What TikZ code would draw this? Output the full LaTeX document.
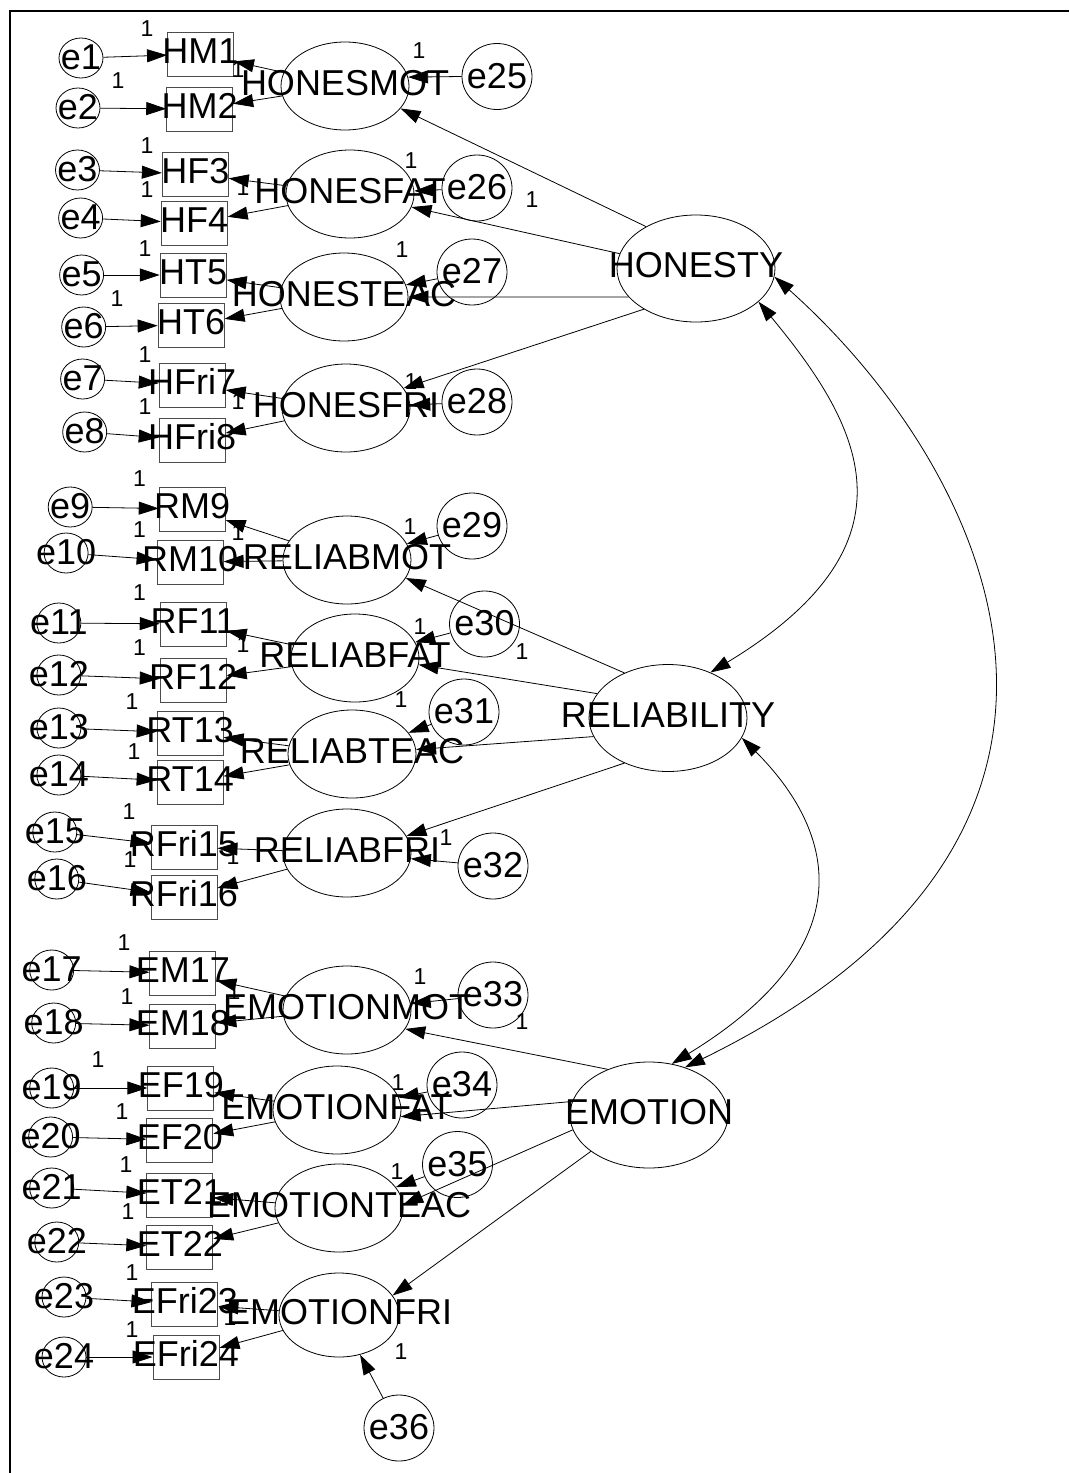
\documentclass[tikz,border=0pt]{standalone}
\usepackage{fontspec}
\setmainfont{Liberation Sans}
\usetikzlibrary{arrows.meta,shapes.geometric}
\newcommand{\ctr}[1]{\makebox[0pt]{\raisebox{-9pt}[0pt][0pt]{\fontsize{36}{40}\selectfont #1}}}
\newcommand{\ctre}[1]{\makebox[0pt]{\raisebox{-11.5pt}[0pt][0pt]{\fontsize{36}{40}\selectfont #1}}}
\begin{document}
\begin{tikzpicture}[x=1pt,y=-1pt,
  err/.style={ellipse,draw,line width=0.8pt,minimum width=44pt,minimum height=40pt,inner sep=0pt},
  errb/.style={ellipse,draw,line width=0.8pt,minimum width=70pt,minimum height=66pt,inner sep=0pt},
  obs/.style={rectangle,draw=black!70,line width=0.9pt,minimum width=66pt,minimum height=44pt,inner sep=0pt},
  lat/.style={ellipse,draw,line width=0.8pt,minimum width=128pt,minimum height=88pt,inner sep=0pt},
  latb/.style={ellipse,draw,line width=0.8pt,minimum width=158pt,minimum height=107pt,inner sep=0pt},
  one/.style={inner sep=0pt,font=\fontsize{23}{26}\selectfont},
  arr/.style={line width=0.8pt,-{Triangle[length=20pt,width=13pt]}},
  cov/.style={line width=0.8pt,{Triangle[length=20pt,width=13pt]}-{Triangle[length=20pt,width=13pt]}}]
\useasboundingbox (0,0) rectangle (1069,1473);
\draw[line width=2pt] (1069,10.5) -- (9.5,10.5) -- (9.5,1473);

% left error terms
\node[err] (e1) at (81,58) {\ctre{e1}};
\node[err] (e2) at (78,108) {\ctre{e2}};
\node[err] (e3) at (77.5,170) {\ctre{e3}};
\node[err] (e4) at (80.6,218) {\ctre{e4}};
\node[err] (e5) at (81.6,275) {\ctre{e5}};
\node[err] (e6) at (83.7,327) {\ctre{e6}};
\node[err] (e7) at (82.6,379) {\ctre{e7}};
\node[err] (e8) at (84.7,432) {\ctre{e8}};
\node[err] (e9) at (70.2,507) {\ctre{e9}};
\node[err] (e10) at (66.1,553) {\ctre{e10}};
\node[err] (e11) at (58.9,623) {\ctre{e11}};
\node[err] (e12) at (58.9,675) {\ctre{e12}};
\node[err] (e13) at (58.9,728) {\ctre{e13}};
\node[err] (e14) at (58.9,775) {\ctre{e14}};
\node[err] (e15) at (54.8,832) {\ctre{e15}};
\node[err] (e16) at (56.8,879) {\ctre{e16}};
\node[err] (e17) at (51.7,970) {\ctre{e17}};
\node[err] (e18) at (53.7,1023) {\ctre{e18}};
\node[err] (e19) at (51.7,1088) {\ctre{e19}};
\node[err] (e20) at (50.6,1137) {\ctre{e20}};
\node[err] (e21) at (51.7,1188) {\ctre{e21}};
\node[err] (e22) at (56.8,1242) {\ctre{e22}};
\node[err] (e23) at (64,1297) {\ctre{e23}};
\node[err] (e24) at (64,1357) {\ctre{e24}};

% observed variables
\node[obs] (HM1) at (200.5,54) {\ctr{HM1}};
\node[obs] (HM2) at (199.7,109) {\ctr{HM2}};
\node[obs] (HF3) at (195.3,174) {\ctr{HF3}};
\node[obs] (HF4) at (194.2,223) {\ctr{HF4}};
\node[obs] (HT5) at (193.2,275) {\ctr{HT5}};
\node[obs] (HT6) at (191.1,325) {\ctr{HT6}};
\node[obs] (HFri7) at (192.2,385) {\ctr{HFri7}};
\node[obs] (HFri8) at (192.2,440) {\ctr{HFri8}};
\node[obs] (RM9) at (192.2,509) {\ctr{RM9}};
\node[obs] (RM10) at (190.1,562) {\ctr{RM10}};
\node[obs] (RF11) at (193.2,624) {\ctr{RF11}};
\node[obs] (RF12) at (193.2,680) {\ctr{RF12}};
\node[obs] (RT13) at (190.1,733) {\ctr{RT13}};
\node[obs] (RT14) at (190.1,782) {\ctr{RT14}};
\node[obs] (RFri15) at (184,847) {\ctr{RFri15}};
\node[obs] (RFri16) at (184,897) {\ctr{RFri16}};
\node[obs] (EM17) at (182.9,973) {\ctr{EM17}};
\node[obs] (EM18) at (182.9,1026) {\ctr{EM18}};
\node[obs] (EF19) at (180.8,1088) {\ctr{EF19}};
\node[obs] (EF20) at (179.8,1140) {\ctr{EF20}};
\node[obs] (ET21) at (179.8,1195) {\ctr{ET21}};
\node[obs] (ET22) at (179.8,1247) {\ctr{ET22}};
\node[obs] (EFri23) at (184.9,1304) {\ctr{EFri23}};
\node[obs] (EFri24) at (186,1357) {\ctr{EFri24}};

% first-order latents
\node[lat] (HONESMOT) at (345,86) {\ctr{HONESMOT}};
\node[lat] (HONESFAT) at (350,194) {\ctr{HONESFAT}};
\node[lat] (HONESTEAC) at (344,297) {\ctr{HONESTEAC}};
\node[lat] (HONESFRI) at (346,408) {\ctr{HONESFRI}};
\node[lat] (RELIABMOT) at (347,560) {\ctr{RELIABMOT}};
\node[lat] (RELIABFAT) at (355,658) {\ctr{RELIABFAT}};
\node[lat] (RELIABTEAC) at (352,754) {\ctr{RELIABTEAC}};
\node[lat] (RELIABFRI) at (347,853) {\ctr{RELIABFRI}};
\node[lat] (EMOTIONMOT) at (347,1010) {\ctr{EMOTIONMOT}};
\node[lat] (EMOTIONFAT) at (337,1110) {\ctr{EMOTIONFAT}};
\node[lat] (EMOTIONTEAC) at (339,1208) {\ctr{EMOTIONTEAC}};
\node[lat,minimum width=120pt,minimum height=84pt] (EMOTIONFRI) at (339,1315) {\ctr{EMOTIONFRI}};

% right error terms
\node[errb] (e25) at (497,76.5) {\ctre{e25}};
\node[errb] (e26) at (477,188) {\ctre{e26}};
\node[errb] (e27) at (472,272) {\ctre{e27}};
\node[errb] (e28) at (477,402) {\ctre{e28}};
\node[errb] (e29) at (472,526) {\ctre{e29}};
\node[errb] (e30) at (484.5,624) {\ctre{e30}};
\node[errb] (e31) at (464,712) {\ctre{e31}};
\node[errb] (e32) at (493,866) {\ctre{e32}};
\node[errb] (e33) at (493,995) {\ctre{e33}};
\node[errb] (e34) at (462,1085) {\ctre{e34}};
\node[errb] (e35) at (457.5,1164.5) {\ctre{e35}};
\node[errb] (e36) at (399,1428) {\ctre{e36}};

% second-order latents
\node[latb] (HONESTY) at (696,268.5) {\ctr{HONESTY}};
\node[latb] (RELIABILITY) at (668,718) {\ctr{RELIABILITY}};
\node[latb,minimum height=106pt] (EMOTION) at (649,1115) {\ctr{EMOTION}};

% error -> indicator
\foreach \e/\b in {e1/HM1,e2/HM2,e3/HF3,e4/HF4,e5/HT5,e6/HT6,e7/HFri7,e8/HFri8,
  e9/RM9,e10/RM10,e11/RF11,e12/RF12,e13/RT13,e14/RT14,e15/RFri15,e16/RFri16,
  e17/EM17,e18/EM18,e19/EF19,e20/EF20,e21/ET21,e22/ET22,e23/EFri23,e24/EFri24}
  \draw[arr] (\e) -- (\b);

% first-order latent -> indicators
\foreach \l/\a/\b in {HONESMOT/HM1/HM2,HONESFAT/HF3/HF4,HONESTEAC/HT5/HT6,HONESFRI/HFri7/HFri8,
  RELIABMOT/RM9/RM10,RELIABFAT/RF11/RF12,RELIABTEAC/RT13/RT14,RELIABFRI/RFri15/RFri16,
  EMOTIONMOT/EM17/EM18,EMOTIONFAT/EF19/EF20,EMOTIONTEAC/ET21/ET22,EMOTIONFRI/EFri23/EFri24}
  {\draw[arr] (\l) -- (\a); \draw[arr] (\l) -- (\b);}

% disturbances
\draw[arr] (e25.180) -- (HONESMOT.8);
\foreach \e/\l in {e26/HONESFAT,e27/HONESTEAC,e28/HONESFRI,
  e29/RELIABMOT,e30/RELIABFAT,e31/RELIABTEAC,e32/RELIABFRI,
  e33/EMOTIONMOT,e34/EMOTIONFAT,e35/EMOTIONTEAC,e36/EMOTIONFRI}
  \draw[arr] (\e) -- (\l);

% second-order loadings
\draw[arr] (HONESTY.140) -- (HONESMOT.-22);
\draw[arr] (HONESTY.169) -- (HONESFAT.-12);
\draw[arr] (HONESTY.203) -- (HONESTEAC.0);
\draw[arr] (HONESTY.218) -- (HONESFRI.19);
\draw[arr] (RELIABILITY.134) -- (RELIABMOT.-17);
\draw[arr] (RELIABILITY.161) -- (RELIABFAT.-6);
\draw[arr] (RELIABILITY.194) -- (RELIABTEAC.4);
\draw[arr] (RELIABILITY.226) -- (RELIABFRI.16);
\draw[arr] (EMOTION.132) -- (EMOTIONMOT.-18);
\draw[arr] (EMOTION.170) -- (EMOTIONFAT.-6);
\draw[arr] (EMOTION.191) -- (EMOTIONTEAC.3);
\draw[arr] (EMOTION.212) -- (EMOTIONFRI.20);

% covariances
\draw[cov] (HONESTY.-28) .. controls +(102,123) and +(215,-130) .. (RELIABILITY.47);
\draw[cov] (RELIABILITY.-15) .. controls +(92,92) and +(196,-120) .. (EMOTION.66);
\draw[cov] (HONESTY.-6) .. controls +(210,187) and +(487,-238) .. (EMOTION.53);

% fixed parameters "1"
\foreach \n/\x/\y in {1/147/29,2/118/81,3/238/70,4/419/51,5/147/146,6/147/190,7/243/188,
  8/411/161,9/532/200,10/145/249,11/402/250,12/117/299,13/145/355,14/145/407,15/238/402,
  16/411/382,17/139.5/479,18/139.5/530,19/238/533,20/410/527,21/139.5/593,22/139.5/648,
  23/243/645,24/420/627,25/522/652,26/132/702,27/401/700,28/134/752,29/129/812,30/130/860,
  31/233/857,32/446/838,33/124/943,34/127/997,35/234/992,36/420/977,37/522/1022,
  38/98/1060,39/122/1112,40/398/1083,41/126/1165,42/397/1172,43/128/1212,44/132/1273,
  45/132/1330,46/230/1318,47/401/1352}
  \node[one] (one\n) at (\x,\y) {1};
\end{tikzpicture}
\end{document}
